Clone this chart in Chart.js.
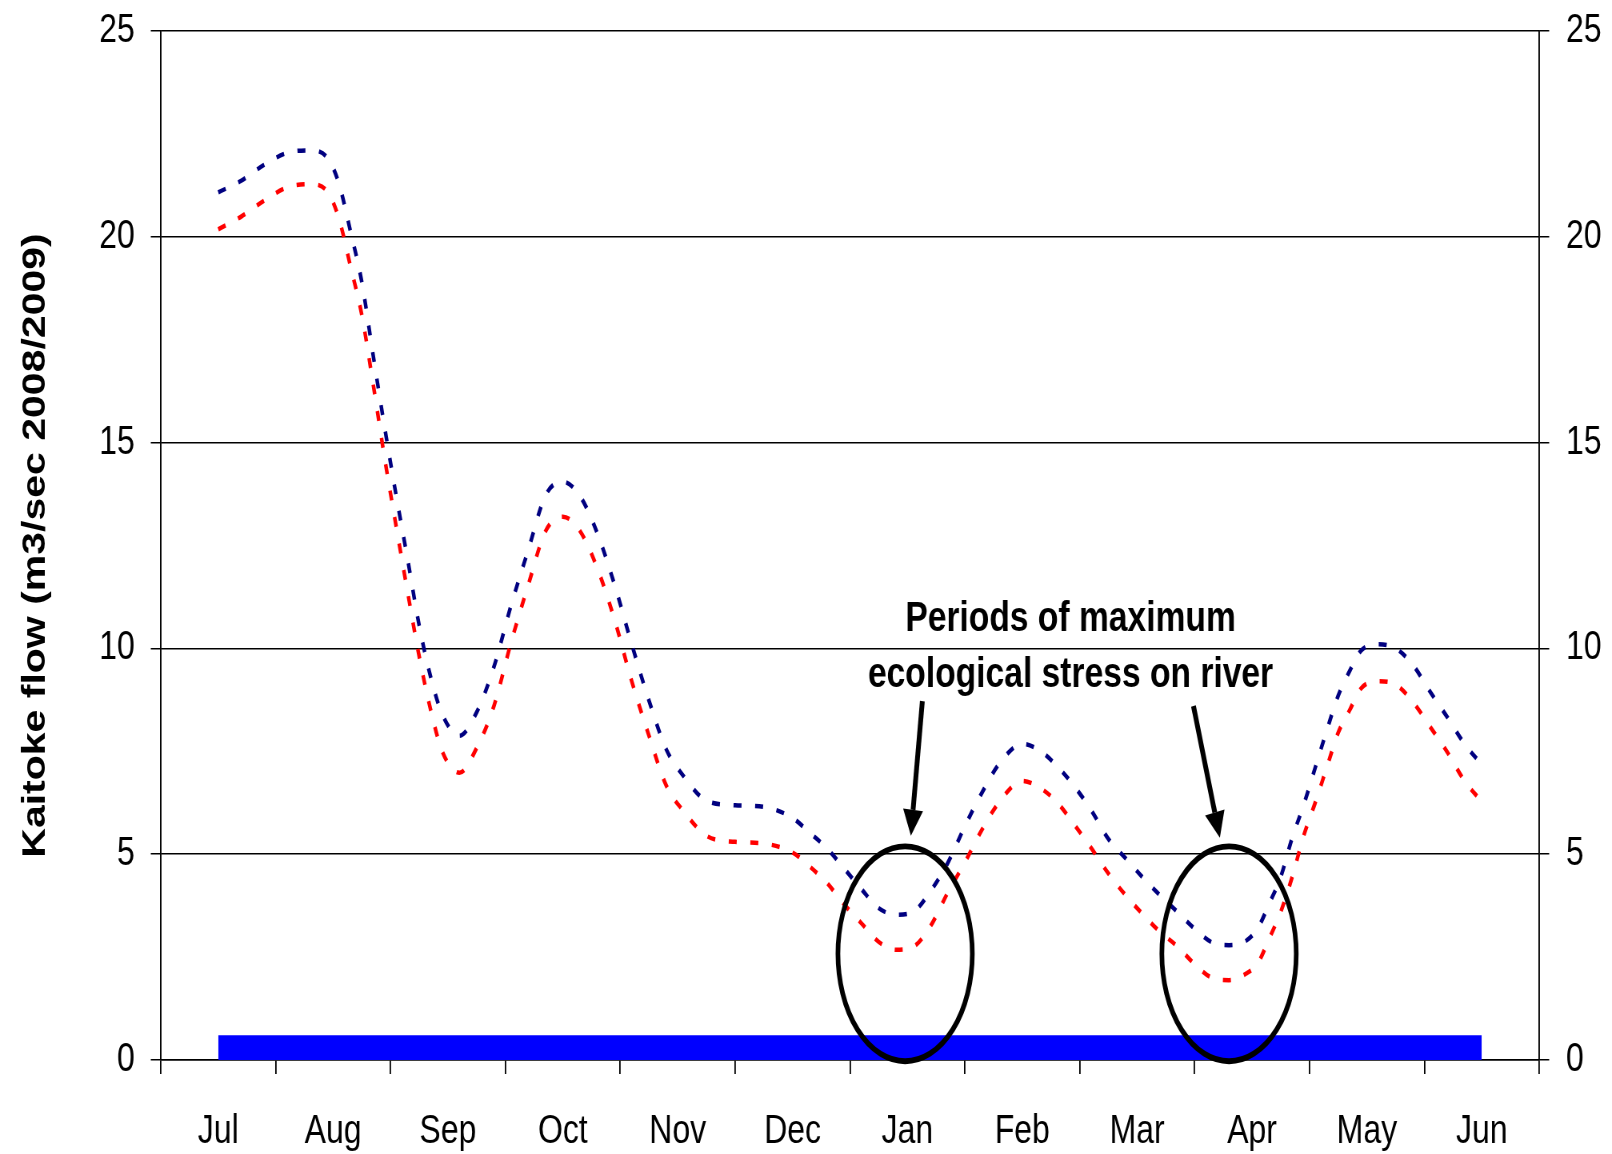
<!DOCTYPE html>
<html>
<head>
<meta charset="utf-8">
<script src="https://cdn.jsdelivr.net/npm/chart.js@4.4.1/dist/chart.umd.min.js"></script>
<style>
  html, body { margin: 0; padding: 0; background: #fff; overflow: hidden; }
  #wrap { width: 1612px; height: 1154px; overflow: hidden; }
  /* the original figure is horizontally condensed, so draw wide and squeeze */
  #flowChart { transform: scaleX(0.8); transform-origin: 0 0; }
</style>
</head>
<body>
<div id="wrap"><canvas id="flowChart" width="2015" height="1154"></canvas></div>
<script>
// Kaitoke flow, July 2008 - June 2009
const monthLabels = ["Jul", "Aug", "Sep", "Oct", "Nov", "Dec", "Jan", "Feb", "Mar", "Apr", "May", "Jun"];

// positions along the year, in months (0 = Jul)
const flowPos = [0, 0.2, 0.4, 0.6, 0.8, 0.95, 1.05, 1.15, 1.25, 1.35, 1.45, 1.55, 1.65, 1.75, 1.85, 1.95,
  2.1, 2.25, 2.4, 2.55, 2.7, 2.85, 3.0, 3.15, 3.3, 3.45, 3.6, 3.75, 3.9, 4.05, 4.25, 4.5, 4.75,
  5.0, 5.15, 5.3, 5.45, 5.6, 5.75, 5.9, 6.05, 6.2, 6.35, 6.5, 6.65, 6.8, 7.0, 7.15, 7.3, 7.45,
  7.6, 7.75, 7.9, 8.05, 8.2, 8.35, 8.5, 8.65, 8.8, 8.95, 9.05, 9.15, 9.25, 9.35, 9.45, 9.55,
  9.65, 9.75, 9.85, 9.95, 10.1, 10.25, 10.4, 10.55, 10.7, 10.85, 11.0];

const blueFlow = [21.08, 21.36, 21.75, 22.04, 22.1, 21.92, 21.3, 20.15, 18.9, 17.1, 15.35, 13.7, 12.15, 10.55, 9.3, 8.4,
  7.88, 8.45, 9.55, 11.05, 12.4, 13.72, 14.05, 13.7, 12.8, 11.55, 10.1, 8.73, 7.55, 6.9, 6.3, 6.19, 6.15,
  5.88, 5.52, 5.14, 4.65, 4.15, 3.69, 3.53, 3.6, 4.1, 4.78, 5.68, 6.5, 7.2, 7.68, 7.52, 7.15, 6.66,
  6.07, 5.37, 4.9, 4.43, 4.0, 3.6, 3.19, 2.86, 2.79, 2.9, 3.2, 3.8, 4.45, 5.4, 6.2, 7.1,
  8.0, 8.85, 9.45, 9.95, 10.1, 10.0, 9.6, 8.95, 8.33, 7.68, 7.18];

const redFlow = [20.18, 20.49, 20.88, 21.2, 21.28, 21.1, 20.45, 19.3, 18.1, 16.4, 14.6, 12.95, 11.35, 9.8, 8.5, 7.5,
  6.98, 7.58, 8.6, 10.15, 11.55, 12.85, 13.2, 12.85, 11.95, 10.7, 9.2, 7.88, 6.67, 6.05, 5.45, 5.3, 5.26,
  5.04, 4.7, 4.3, 3.78, 3.32, 2.87, 2.68, 2.75, 3.25, 4.06, 4.8, 5.6, 6.27, 6.78, 6.62, 6.27, 5.73,
  5.15, 4.53, 4.0, 3.54, 3.11, 2.76, 2.33, 2.0, 1.94, 2.1, 2.35, 2.95, 3.6, 4.45, 5.45, 6.25,
  7.1, 7.95, 8.5, 9.03, 9.2, 9.12, 8.7, 8.1, 7.48, 6.78, 6.28];

// minimum flow band
const minFlowPos = [0, 11];
const minFlow = [0.6, 0.6];

const yTicks = [0, 5, 10, 15, 20, 25];

const sans = "'Liberation Sans', Arial, Helvetica, sans-serif";

// annotations, in month / flow units
const stressNote = ["Periods of maximum", "ecological stress on river"];
const notePos = { x: 7.42, y: [10.42, 9.06] };
const stressRings = [
  { x: 5.98, y: 2.58, rx: 0.585, ry: 2.61 },
  { x: 8.8, y: 2.58, rx: 0.585, ry: 2.61 },
];
const stressArrows = [
  { x0: 6.13, y0: 8.72, x1: 6.03, y1: 5.45 },
  { x0: 8.49, y0: 8.6, x1: 8.72, y1: 5.4 },
];

function isWhole(v) {
  return Math.abs(v - Math.round(v)) < 1e-6;
}

function toPoints(xs, ys) {
  return xs.map((x, i) => ({ x: x, y: ys[i] }));
}

const annotationPlugin = {
  id: "stressNotes",
  afterDatasetsDraw(chart) {
    const ctx = chart.ctx;
    const xs = chart.scales.x;
    const ys = chart.scales.y;
    ctx.save();
    ctx.strokeStyle = "#000";
    ctx.fillStyle = "#000";

    ctx.lineWidth = 5.8;
    stressRings.forEach((r) => {
      const cx = xs.getPixelForValue(r.x);
      const cy = ys.getPixelForValue(r.y);
      const rx = xs.getPixelForValue(r.x + r.rx) - cx;
      const ry = cy - ys.getPixelForValue(r.y + r.ry);
      ctx.beginPath();
      ctx.ellipse(cx, cy, rx, ry, 0, 0, Math.PI * 2);
      ctx.stroke();
    });

    stressArrows.forEach((a) => {
      const x0 = xs.getPixelForValue(a.x0);
      const y0 = ys.getPixelForValue(a.y0);
      const x1 = xs.getPixelForValue(a.x1);
      const y1 = ys.getPixelForValue(a.y1);
      const ang = Math.atan2(y1 - y0, x1 - x0);
      const headLen = 26;
      const headW = 12.5;
      const bx = x1 - headLen * Math.cos(ang);
      const by = y1 - headLen * Math.sin(ang);
      ctx.lineWidth = 6;
      ctx.beginPath();
      ctx.moveTo(x0, y0);
      ctx.lineTo(bx, by);
      ctx.stroke();
      ctx.beginPath();
      ctx.moveTo(x1, y1);
      ctx.lineTo(bx + headW * Math.sin(ang), by - headW * Math.cos(ang));
      ctx.lineTo(bx - headW * Math.sin(ang), by + headW * Math.cos(ang));
      ctx.closePath();
      ctx.fill();
    });

    ctx.font = "bold 42px " + sans;
    ctx.textAlign = "center";
    ctx.textBaseline = "alphabetic";
    stressNote.forEach((line, i) => {
      ctx.fillText(line, xs.getPixelForValue(notePos.x), ys.getPixelForValue(notePos.y[i]));
    });
    ctx.restore();
  },
};

const tickFont = { family: sans, size: 40 };

// fixed box sizes so the plot area lands where the original has it
function fitSide(width) {
  return (s) => {
    s.width = width;
    s.paddingTop = 0;
    s.paddingBottom = 0;
  };
}

new Chart(document.getElementById("flowChart"), {
  type: "line",
  data: {
    datasets: [
      {
        data: toPoints(flowPos, blueFlow),
        borderColor: "#000080",
        borderWidth: 4.5,
        borderDash: [10, 17],
        cubicInterpolationMode: "monotone",
        pointRadius: 0,
        fill: false,
        order: 1,
      },
      {
        data: toPoints(flowPos, redFlow),
        borderColor: "#ff0000",
        borderWidth: 4.5,
        borderDash: [10, 17],
        cubicInterpolationMode: "monotone",
        pointRadius: 0,
        fill: false,
        order: 2,
      },
      {
        data: toPoints(minFlowPos, minFlow),
        borderWidth: 0,
        borderColor: "#0000ff",
        backgroundColor: "#0000ff",
        pointRadius: 0,
        fill: "origin",
        order: 3,
      },
    ],
  },
  options: {
    responsive: false,
    animation: false,
    layout: { padding: { top: 31, left: 0, right: 0, bottom: 0 } },
    plugins: {
      legend: { display: false },
      tooltip: { enabled: false },
    },
    scales: {
      x: {
        type: "linear",
        min: -0.5,
        max: 11.5,
        afterFit: (s) => { s.height = 94; },
        ticks: {
          stepSize: 0.5,
          autoSkip: false,
          maxRotation: 0,
          padding: 34,
          color: "#000",
          font: tickFont,
          callback: (v) => (isWhole(v) ? monthLabels[Math.round(v)] : ""),
        },
        grid: {
          drawOnChartArea: false,
          tickLength: 14,
          lineWidth: 1.8,
          tickColor: (c) => (c.tick && isWhole(c.tick.value) ? "rgba(0,0,0,0)" : "#000"),
        },
        border: { color: "#000", width: 1.5 },
      },
      y: {
        position: "left",
        min: 0,
        max: 25,
        afterFit: fitSide(201),
        afterBuildTicks: (s) => { s.ticks = yTicks.map((v) => ({ value: v })); },
        ticks: { color: "#000", font: tickFont, padding: 20 },
        grid: { color: "#000", lineWidth: 1.5, tickLength: 12.5 },
        border: { color: "#000", width: 1.9 },
        title: {
          display: true,
          text: "Kaitoke flow (m3/sec 2008/2009)",
          color: "#000",
          font: { family: sans, size: 41, weight: "bold" },
          padding: { top: 20, bottom: 0 },
        },
      },
      y2: {
        position: "right",
        min: 0,
        max: 25,
        afterFit: fitSide(91),
        afterBuildTicks: (s) => { s.ticks = yTicks.map((v) => ({ value: v })); },
        ticks: { color: "#000", font: tickFont, padding: 21 },
        grid: { drawOnChartArea: false, color: "#000", lineWidth: 1.5, tickLength: 12.5 },
        border: { color: "#000", width: 1.9 },
      },
    },
  },
  plugins: [annotationPlugin],
});
</script>
</body>
</html>
